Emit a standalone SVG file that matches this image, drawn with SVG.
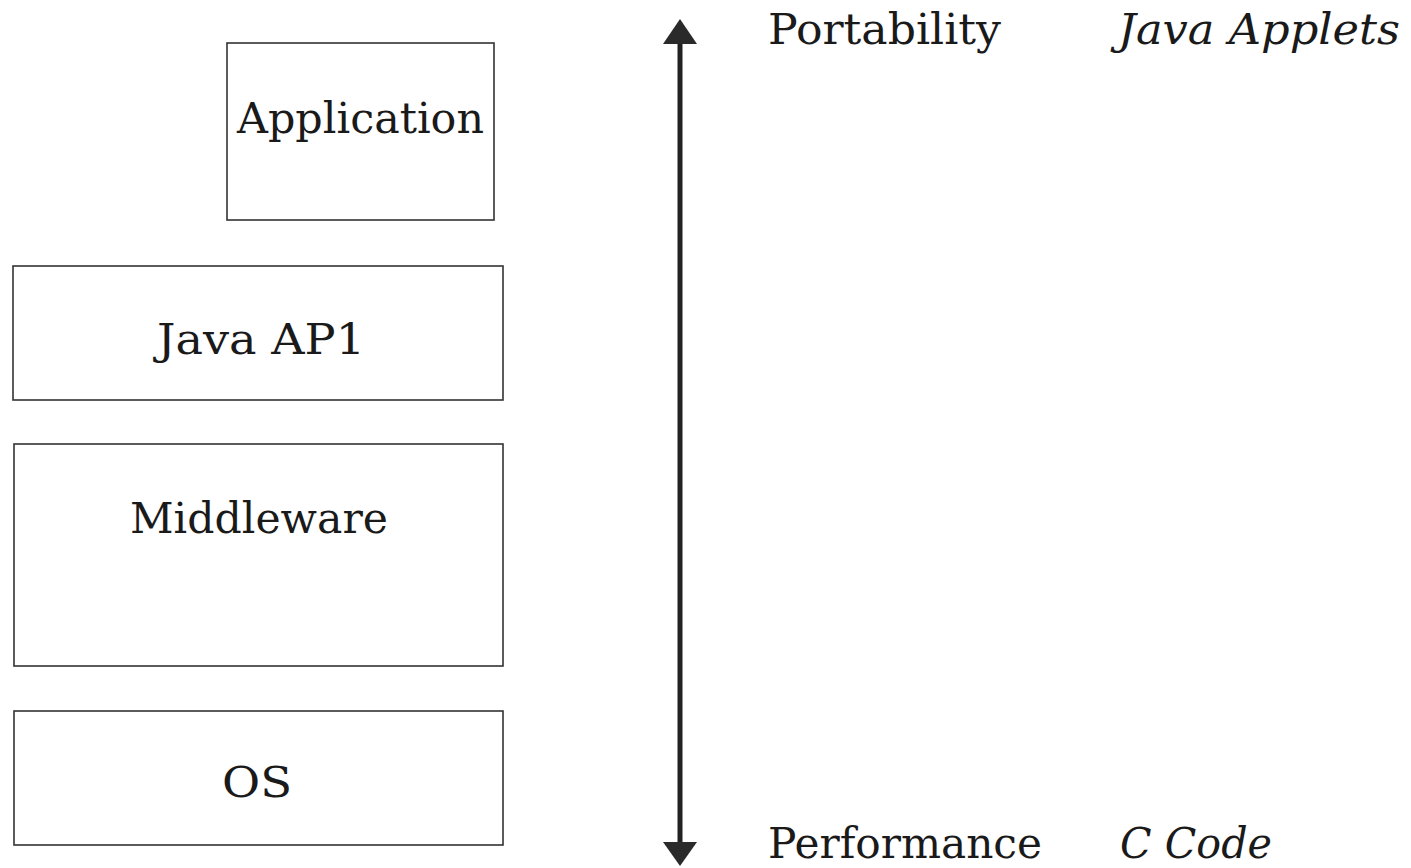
<svg xmlns="http://www.w3.org/2000/svg" width="1411" height="868" viewBox="0 0 1411 868">
<style>
.box{fill:#fff;stroke:#333;stroke-width:1.6}
.t{font-family:"DejaVu Serif","Liberation Serif",serif;font-size:42px;fill:#1a1a1a}
.i{font-style:italic}
</style>
<rect width="1411" height="868" fill="#fff"/>
<g id="application"><rect class="box" x="227" y="43" width="267" height="177"/><text class="t" x="360.5" y="133" text-anchor="middle" textLength="247" lengthAdjust="spacingAndGlyphs">Application</text></g>
<g id="java-api"><rect class="box" x="13" y="266" width="490" height="134"/><text class="t" x="261" y="354" text-anchor="middle" textLength="208" lengthAdjust="spacingAndGlyphs">Java AP1</text></g>
<g id="middleware"><rect class="box" x="14" y="444" width="489" height="222"/><text class="t" x="259" y="533" text-anchor="middle" textLength="258" lengthAdjust="spacingAndGlyphs">Middleware</text></g>
<g id="os"><rect class="box" x="14" y="711" width="489" height="134"/><text class="t" x="257" y="797" text-anchor="middle" textLength="70" lengthAdjust="spacingAndGlyphs">OS</text></g>
<g id="connectors">
<line x1="680" y1="40" x2="680" y2="846" stroke="#222" stroke-width="5"/>
<polygon points="680,19 697,44 663,44" fill="#2a2a2a"/>
<polygon points="680,866 697,842 663,842" fill="#2a2a2a"/>
</g>
<g id="labels">
<text class="t" x="768" y="44" textLength="233" lengthAdjust="spacingAndGlyphs">Portability</text>
<text class="t i" x="1118" y="44" textLength="282" lengthAdjust="spacingAndGlyphs">Java Applets</text>
<text class="t" x="768" y="858" textLength="274" lengthAdjust="spacingAndGlyphs">Performance</text>
<text class="t i" x="1120" y="858" textLength="152" lengthAdjust="spacingAndGlyphs">C Code</text>
</g>
</svg>
